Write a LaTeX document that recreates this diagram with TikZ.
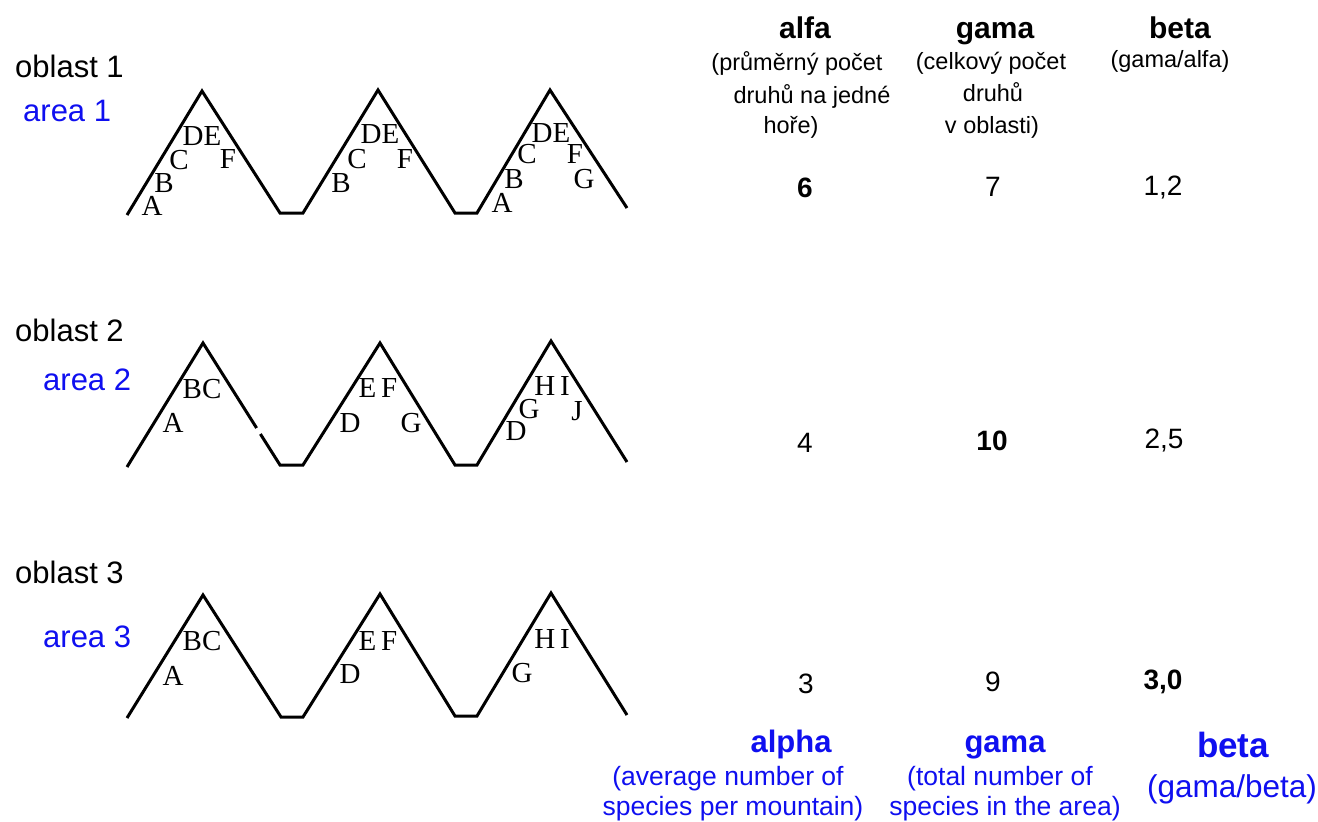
\documentclass[tikz,border=0pt]{standalone}
\usepackage{fontspec}
\setmainfont{Liberation Sans}
\newfontfamily\mtnserif{Liberation Serif}
\definecolor{areablue}{RGB}{15,15,240}
\begin{document}
\begin{tikzpicture}[x=1pt,y=-1pt,
  lbl/.style={font=\fontsize{31}{36}\selectfont, anchor=base west, inner sep=0pt},
  eng/.style={lbl, text=areablue},
  hdr/.style={font=\bfseries\fontsize{30}{36}\selectfont, anchor=base, inner sep=0pt},
  sub/.style={font=\fontsize{23.5}{28}\selectfont, anchor=base, inner sep=0pt},
  val/.style={font=\fontsize{28}{32}\selectfont, anchor=base, inner sep=0pt},
  bval/.style={font=\bfseries\fontsize{28}{32}\selectfont, anchor=base, inner sep=0pt},
  sp/.style={font=\mtnserif\fontsize{29}{32}\selectfont, anchor=base, inner sep=0pt},
  bhdr/.style={font=\bfseries\fontsize{31}{36}\selectfont, anchor=base, inner sep=0pt, text=areablue},
  bsub/.style={font=\fontsize{26.5}{30}\selectfont, anchor=base, inner sep=0pt, text=areablue},
  mtn/.style={line width=3pt, line join=miter}
]
\useasboundingbox (0,0) rectangle (1318,822);
\fill[white] (0,0) rectangle (1318,822);

% ---- left labels
\node[lbl] (ob1) at (15,77) {oblast 1};
\node[eng] (ar1) at (23,121) {area 1};
\node[lbl] (ob2) at (15,341) {oblast 2};
\node[eng] (ar2) at (43,390) {area 2};
\node[lbl] (ob3) at (15,583) {oblast 3};
\node[eng] (ar3) at (43,647) {area 3};

% ---- mountains
\draw[mtn] (127,215) -- (202,91) -- (280,213) -- (303,213) -- (378,90) -- (455,213) -- (477,213) -- (550,90) -- (627,208);
\draw[mtn] (127,467) -- (203,343) -- (256.6,428);
\draw[mtn] (260.4,434) -- (280,465) -- (303,465) -- (380,343) -- (455,465) -- (477,465) -- (551,341) -- (627,462);
\draw[mtn] (127,718) -- (203,595) -- (281,717) -- (303,717) -- (380,594) -- (455,716) -- (477,716) -- (551,593) -- (627,715);

% ---- species, area 1
\node[sp] (s1a) at (152,215) {A};
\node[sp] (s1b) at (164,192) {B};
\node[sp] (s1c) at (179,169) {C};
\node[sp] (s1de) at (202,145) {DE};
\node[sp] (s1f) at (228,168) {F};
\node[sp] (s2b) at (341,192) {B};
\node[sp] (s2c) at (357,168) {C};
\node[sp] (s2de) at (380,143) {DE};
\node[sp] (s2f) at (405,168) {F};
\node[sp] (s3a) at (502,212) {A};
\node[sp] (s3b) at (514,188) {B};
\node[sp] (s3c) at (527,163) {C};
\node[sp] (s3de) at (551,142) {DE};
\node[sp] (s3f) at (575,163) {F};
\node[sp] (s3g) at (584,188) {G};

% ---- species, area 2
\node[sp] (t1a) at (173,432) {A};
\node[sp] (t1bc) at (202,398) {BC};
\node[sp] (t2d) at (350,432) {D};
\node[sp] (t2ef) at (378,397) {E\,F};
\node[sp] (t2g) at (411,432) {G};
\node[sp] (t3d) at (516,440) {D};
\node[sp] (t3g) at (529,418) {G};
\node[sp] (t3hi) at (552,395) {H\,I};
\node[sp] (t3j) at (577,420) {J};

% ---- species, area 3
\node[sp] (u1a) at (173,685) {A};
\node[sp] (u1bc) at (202,650) {BC};
\node[sp] (u2d) at (350,683) {D};
\node[sp] (u2ef) at (378,650) {E\,F};
\node[sp] (u3g) at (522,682) {G};
\node[sp] (u3hi) at (552,648) {H\,I};

% ---- headers
\node[hdr] (halfa) at (805,38) {alfa};
\node[hdr] (hgama) at (995,38) {gama};
\node[hdr] (hbeta) at (1180,38) {beta};
\node[sub] (ha1) at (797,70) {(průměrný počet};
\node[sub] (ha2) at (812,103) {druhů na jedné};
\node[sub] (ha3) at (791,133) {hoře)};
\node[sub] (hg1) at (991,69) {(celkový počet};
\node[sub] (hg2) at (993,101) {druhů};
\node[sub] (hg3) at (992,133) {v oblasti)};
\node[sub] (hb1) at (1170,67) {(gama/alfa)};

% ---- values
\node[bval] (v11) at (805,197) {6};
\node[val] (v12) at (993,196) {7};
\node[val] (v13) at (1163,195) {1,2};
\node[val] (v21) at (805,452) {4};
\node[bval] (v22) at (992,450) {10};
\node[val] (v23) at (1164,448) {2,5};
\node[val] (v31) at (806,693) {3};
\node[val] (v32) at (993,691) {9};
\node[bval] (v33) at (1163,689) {3,0};

% ---- English (blue) legend
\node[bhdr] (ealpha) at (791,752) {alpha};
\node[bsub] (ea1) at (728,785) {(average number of};
\node[bsub] (ea2) at (733,815) {species per mountain)};
\node[bhdr] (egama) at (1005,752) {gama};
\node[bsub] (eg1) at (1000,785) {(total number of};
\node[bsub] (eg2) at (1005,815) {species in the area)};
\node[bhdr, font=\bfseries\fontsize{35}{40}\selectfont] (ebeta) at (1233,757) {beta};
\node[bsub, font=\fontsize{31.5}{36}\selectfont] (eb1) at (1232,797) {(gama/beta)};
\end{tikzpicture}
\end{document}
